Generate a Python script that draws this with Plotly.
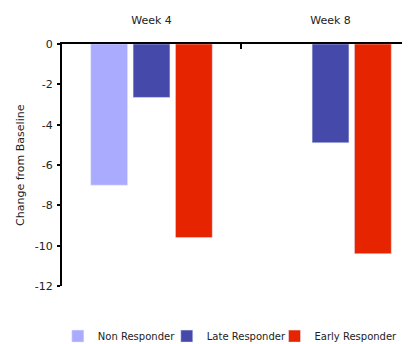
import plotly.graph_objects as go

categories = ["Week 4", "Week 8"]
non_responder = [-7.0, None]
late_responder = [-2.65, -4.9]
early_responder = [-9.6, -10.4]
y_ticks = [0, -2, -4, -6, -8, -10, -12]
y_tick_labels = ["0", "-2", "-4", "-6", "-8", "-10", "-12"]
y_title = "Change from Baseline"

font = "DejaVu Sans"
fig = go.Figure()
fig.add_trace(go.Bar(name="Non Responder", x=categories, y=non_responder, marker_color="#AAAAFF",
                     legend="legend"))
fig.add_trace(go.Bar(name="Late Responder", x=categories, y=late_responder, marker_color="#4449AA",
                     legend="legend2"))
fig.add_trace(go.Bar(name="Early Responder", x=categories, y=early_responder, marker_color="#E62400",
                     legend="legend3"))

legend_common = dict(orientation="h", xref="container", xanchor="left",
                     yref="paper", y=-0.207, yanchor="middle", font=dict(size=10),
                     itemwidth=30, borderwidth=0, bgcolor="rgba(0,0,0,0)")

fig.update_layout(
    width=402, height=336,
    margin=dict(l=54, r=0, t=36, b=58, autoexpand=False),
    paper_bgcolor="white", plot_bgcolor="white",
    barmode="group", bargap=0.29, bargroupgap=0.13,
    font=dict(family=font, size=11, color="#222"),
    showlegend=True,
    legend=dict(x=0.124, **legend_common),
    legend2=dict(x=0.395, **legend_common),
    legend3=dict(x=0.663, **legend_common),
    annotations=[dict(text=y_title, textangle=-90, xref="paper", yref="paper",
                      x=-0.121, y=0.5, xanchor="center", yanchor="middle",
                      showarrow=False, font=dict(size=11, color="#222"))],
)
fig.update_xaxes(side="top", range=[-0.5, 1.444], showline=True, linecolor="black", linewidth=2,
                 ticks="inside", tickson="boundaries", ticklen=5, tickwidth=2, tickcolor="black",
                 showgrid=False, zeroline=False, automargin=False, tickangle=0,
                 ticklabelstandoff=14)
fig.update_yaxes(range=[-12, 0], tickvals=y_ticks, ticktext=y_tick_labels, showline=True,
                 linecolor="black", linewidth=2,
                 ticks="outside", ticklen=3, tickwidth=2, tickcolor="black",
                 showgrid=False, zeroline=False, automargin=False, ticklabelstandoff=2)
fig.write_html("out.html")
